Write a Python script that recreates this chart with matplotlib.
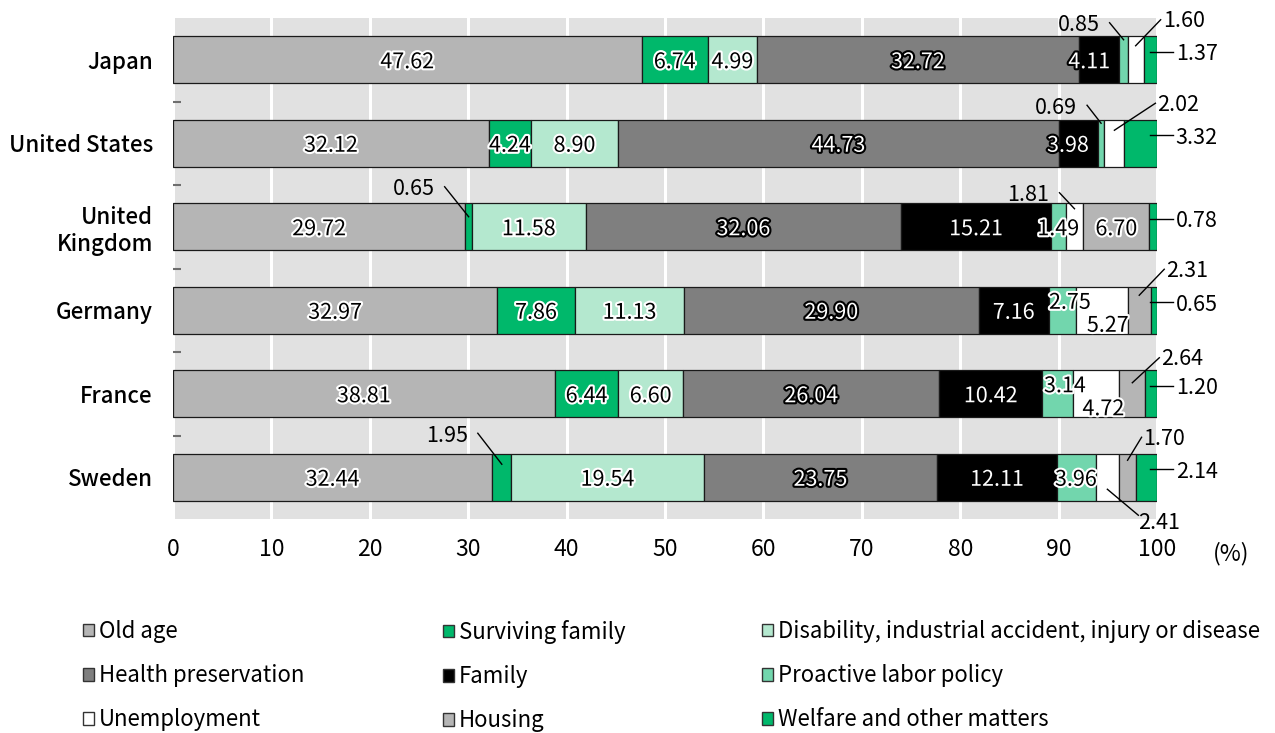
import numpy as np
import matplotlib.pyplot as plt
import matplotlib.patheffects as pe
from matplotlib.patches import Patch

plt.rcParams['font.family'] = ['Noto Sans CJK JP', 'DejaVu Sans']

countries = ['Japan', 'United States', 'United\nKingdom', 'Germany', 'France', 'Sweden']
categories = ['Old age', 'Surviving family',
              'Disability, industrial accident, injury or disease',
              'Health preservation', 'Family', 'Proactive labor policy',
              'Unemployment', 'Housing', 'Welfare and other matters']

old_age = [47.62, 32.12, 29.72, 32.97, 38.81, 32.44]
surviving = [6.74, 4.24, 0.65, 7.86, 6.44, 1.95]
disability = [4.99, 8.90, 11.58, 11.13, 6.60, 19.54]
health = [32.72, 44.73, 32.06, 29.90, 26.04, 23.75]
family = [4.11, 3.98, 15.21, 7.16, 10.42, 12.11]
labor = [0.85, 0.69, 1.49, 2.75, 3.14, 3.96]
unemployment = [1.60, 2.02, 1.81, 5.27, 4.72, 2.41]
housing = [0.0, 0.0, 6.70, 2.31, 2.64, 1.70]
welfare = [1.37, 3.32, 0.78, 0.65, 1.20, 2.14]

series = [old_age, surviving, disability, health, family, labor,
          unemployment, housing, welfare]
colors = ['#b5b5b5', '#00b86b', '#b4e8cf', '#7f7f7f', '#000000', '#72d6ad',
          '#ffffff', '#b5b5b5', '#00b86b']
dark = {3, 4}  # segments where the value is written in white

# pixel -> data conversion for offsets
PX = 100 / 984
PY = 6 / 501

# labels moved inside the bar: (row, col) -> (dx px, dy px, ha)
inner_moves = {(0, 4): (-10, 0, 'center'), (1, 4): (-10, 0, 'center'),
               (3, 5): (0, -10, 'left'), (3, 6): (1, 13, 'right'),
               (4, 5): (2, -10, 'left'), (4, 6): (5, 13, 'right')}

# labels taken outside with a leader line:
# (row, col) -> (anchor dy px, line dx px, line dy px, side)
callouts = {(0, 5): (-20, -14, -17, 'left'), (0, 6): (-14, 25, -26, 'right'),
            (1, 5): (-20, -14, -18, 'left'), (1, 6): (-13, 41, -27, 'right'),
            (2, 1): (-10, -24, -30, 'left'), (2, 6): (-18, -15, -16, 'left'),
            (3, 7): (-15, 25, -26, 'right'), (4, 7): (-11, 27, -25, 'right'),
            (5, 1): (-13, -24, -31, 'left'), (5, 7): (-17, 14, -23, 'right'),
            (5, 6): (12, 31, 26, 'below')}

fig = plt.figure(figsize=(12.75, 7.33), dpi=100)
ax = fig.add_axes([173 / 1275, 1 - 519 / 733, 984 / 1275, 501 / 733])
ax.set_facecolor('#e1e1e1')

y = np.arange(len(countries))
left = np.zeros(len(countries))
halo_w = [pe.withStroke(linewidth=3, foreground='white')]
halo_b = [pe.withStroke(linewidth=3, foreground='black')]

for col, (vals, color) in enumerate(zip(series, colors)):
    vals = np.array(vals)
    edges = ['#1a1a1a' if v > 0 else 'none' for v in vals]
    ax.barh(y, vals, left=left, height=0.565, color=color,
            edgecolor=edges, linewidth=0.9, zorder=3)
    for row, v in enumerate(vals):
        if v <= 0:
            continue
        x0, x1 = left[row], left[row] + v
        xc = (x0 + x1) / 2
        txt = f'{v:.2f}'
        if col == 8:
            # welfare is always pulled out to the right edge
            yy = row - 8 * PY
            ax.plot([99.3, 101.6], [yy, yy], color='black', lw=1,
                    clip_on=False, zorder=5)
            ax.text(101.9, yy, txt, ha='left', va='center_baseline',
                    fontsize=15.5, clip_on=False)
        elif (row, col) in callouts:
            ay, dx, dy, side = callouts[(row, col)]
            axx, ayy = xc, row + ay * PY
            sx, sy = axx + dx * PX, ayy + dy * PY
            ax.plot([axx, sx], [ayy, sy], color='black', lw=1,
                    clip_on=False, zorder=5)
            if side == 'left':
                ax.text(sx - 10 * PX, sy, txt, ha='right',
                        va='center_baseline', fontsize=15.5, zorder=5)
            elif side == 'right':
                ax.text(sx + 2 * PX, sy - 1 * PY, txt, ha='left',
                        va='center_baseline', fontsize=15.5, zorder=5,
                        clip_on=False)
            else:
                ax.text(sx, sy + 5 * PY, txt, ha='left',
                        va='center_baseline', fontsize=15.5, zorder=5,
                        clip_on=False)
        else:
            dx, dy, ha = inner_moves.get((row, col), (0, 0, 'center'))
            bx = {'center': xc, 'left': x0, 'right': x1}[ha]
            if col in dark:
                kw = dict(color='white', path_effects=halo_b)
            else:
                kw = dict(color='black', path_effects=halo_w)
            ax.text(bx + dx * PX, row + dy * PY, txt, ha=ha,
                    va='center_baseline', fontsize=15.5, zorder=6, **kw)
    left += vals

ax.set_xlim(0, 100)
ax.set_ylim(5.5, -0.5)
ax.set_xticks(range(0, 101, 10))
ax.xaxis.grid(True, color='white', lw=2.2)
ax.set_axisbelow(True)
for s in ax.spines.values():
    s.set_visible(False)
ax.tick_params(axis='x', length=0, pad=14, labelsize=16.5)

ax.set_yticks(y)
ax.set_yticklabels(countries, fontsize=16, fontweight='medium')
ax.tick_params(axis='y', which='major', length=0, pad=14.5)
ax.set_yticks(y[:-1] + 0.5, minor=True)
ax.tick_params(axis='y', which='minor', direction='in', length=6,
               width=1.5, color='#6e6e6e')

fig.text(1213 / 1275, 1 - 551 / 733, '(%)', fontsize=16.5,
         va='center_baseline', ha='left')

# legend, three columns laid out row by row
handles = [Patch(facecolor=c, edgecolor='#333333', linewidth=1) for c in colors]
for start, xpx in zip(range(3), [83, 443, 762]):
    idx = [start, start + 3, start + 6]
    fig.legend([handles[i] for i in idx], [categories[i] for i in idx],
               loc='upper left', bbox_to_anchor=(xpx / 1275, 1 - 620 / 733),
               frameon=False, borderpad=0, borderaxespad=0,
               handlelength=0.5, handleheight=0.5, handletextpad=0.2,
               labelspacing=0.95, fontsize=16)

fig.savefig('out.png', dpi=100)
